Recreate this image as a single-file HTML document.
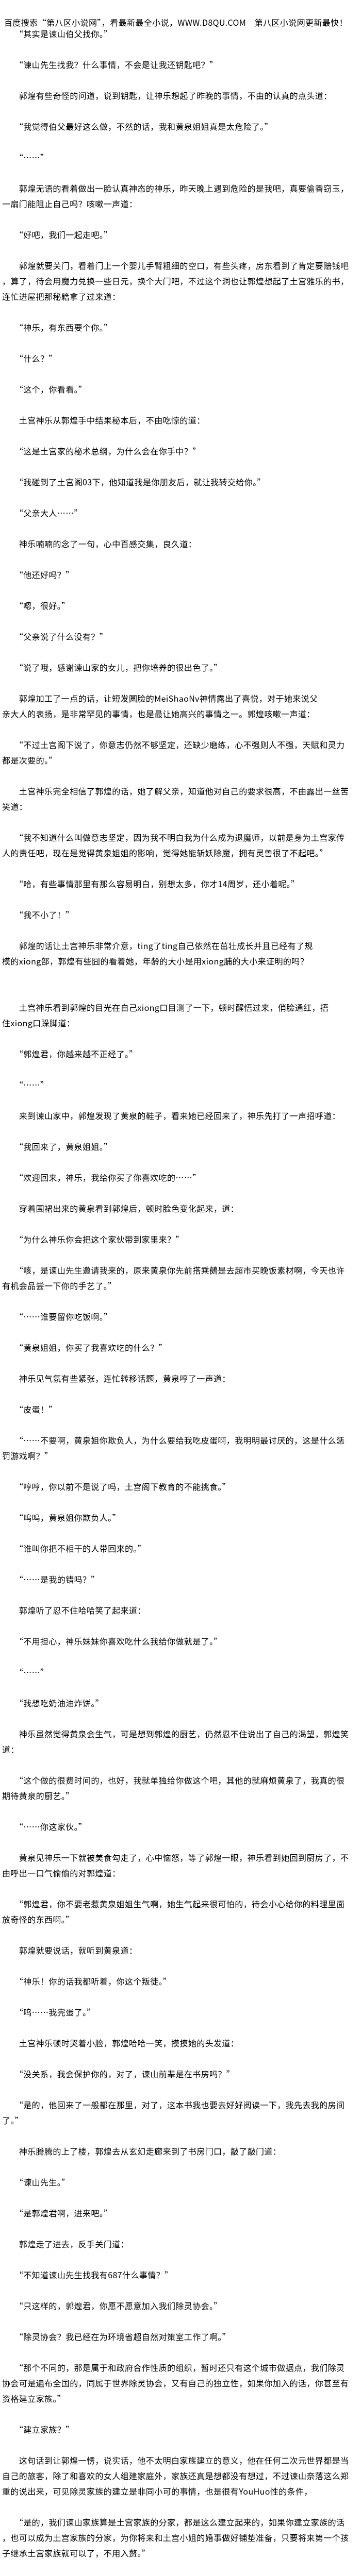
<!DOCTYPE html>
<html lang="zh">
<head>
<meta charset="utf-8">
<style>
html{margin:0;padding:0;width:700px;height:5270px;overflow:hidden;background:#fff;}
body{margin:0;padding:0;width:700px;height:5270px;overflow:hidden;background:#fff;
font-family:"Noto Sans CJK SC","Liberation Sans",sans-serif;
font-size:16px;letter-spacing:0.4px;color:#000;}
#w{position:relative;width:700px;height:5270px;overflow:hidden;}
.hdr{position:absolute;left:4px;top:28px;line-height:30px;height:30px;white-space:pre;}
.c{position:absolute;left:4px;top:50px;width:696px;}
.c div{height:30px;line-height:30px;white-space:pre;overflow:hidden;}
</style>
</head>
<body>
<div id="w">
<div class="hdr"> 百度搜索“第八区小说网”，看最新最全小说，WWW.D8QU.COM　第八区小说网更新最快！</div>
<div class="c">
<div>　　“其实是谏山伯父找你。”</div>
<div></div>
<div>　　“谏山先生找我？什么事情，不会是让我还钥匙吧？”</div>
<div></div>
<div>　　郭煌有些奇怪的问道，说到钥匙，让神乐想起了昨晚的事情，不由的认真的点头道：</div>
<div></div>
<div>　　“我觉得伯父最好这么做，不然的话，我和黄泉姐姐真是太危险了。”</div>
<div></div>
<div>　　“……”</div>
<div></div>
<div>　　郭煌无语的看着做出一脸认真神态的神乐，昨天晚上遇到危险的是我吧，真要偷香窃玉，</div>
<div>一扇门能阻止自己吗？咳嗽一声道：</div>
<div></div>
<div>　　“好吧，我们一起走吧。”</div>
<div></div>
<div>　　郭煌就要关门，看着门上一个婴儿手臂粗细的空口，有些头疼，房东看到了肯定要赔钱吧</div>
<div>，算了，待会用魔力兑换一些日元，换个大门吧，不过这个洞也让郭煌想起了土宫雅乐的书，</div>
<div>连忙进屋把那秘籍拿了过来道：</div>
<div></div>
<div>　　“神乐，有东西要个你。”</div>
<div></div>
<div>　　“什么？”</div>
<div></div>
<div>　　“这个，你看看。”</div>
<div></div>
<div>　　土宫神乐从郭煌手中结果秘本后，不由吃惊的道：</div>
<div></div>
<div>　　“这是土宫家的秘术总纲，为什么会在你手中？”</div>
<div></div>
<div>　　“我碰到了土宫阁03下，他知道我是你朋友后，就让我转交给你。”</div>
<div></div>
<div>　　“父亲大人……”</div>
<div></div>
<div>　　神乐喃喃的念了一句，心中百感交集，良久道：</div>
<div></div>
<div>　　“他还好吗？”</div>
<div></div>
<div>　　“嗯，很好。”</div>
<div></div>
<div>　　“父亲说了什么没有？”</div>
<div></div>
<div>　　“说了哦，感谢谏山家的女儿，把你培养的很出色了。”</div>
<div></div>
<div>　　郭煌加工了一点的话，让短发圆脸的MeiShaoNv神情露出了喜悦，对于她来说父</div>
<div>亲大人的表扬，是非常罕见的事情，也是最让她高兴的事情之一。郭煌咳嗽一声道：</div>
<div></div>
<div>　　“不过土宫阁下说了，你意志仍然不够坚定，还缺少磨练，心不强则人不强，天赋和灵力</div>
<div>都是次要的。”</div>
<div></div>
<div>　　土宫神乐完全相信了郭煌的话，她了解父亲，知道他对自己的要求很高，不由露出一丝苦</div>
<div>笑道：</div>
<div></div>
<div>　　“我不知道什么叫做意志坚定，因为我不明白我为什么成为退魔师，以前是身为土宫家传</div>
<div>人的责任吧，现在是觉得黄泉姐姐的影响，觉得她能斩妖除魔，拥有灵兽很了不起吧。”</div>
<div></div>
<div>　　“哈，有些事情那里有那么容易明白，别想太多，你才14周岁，还小着呢。”</div>
<div></div>
<div>　　“我不小了！”</div>
<div></div>
<div>　　郭煌的话让土宫神乐非常介意，ting了ting自己依然在茁壮成长并且已经有了规</div>
<div>模的xiong部，郭煌有些囧的看着她，年龄的大小是用xiong脯的大小来证明的吗？</div>
<div></div>
<div></div>
<div>　　土宫神乐看到郭煌的目光在自己xiong口目测了一下，顿时醒悟过来，俏脸通红，捂</div>
<div>住xiong口跺脚道：</div>
<div></div>
<div>　　“郭煌君，你越来越不正经了。”</div>
<div></div>
<div>　　“……”</div>
<div></div>
<div>　　来到谏山家中，郭煌发现了黄泉的鞋子，看来她已经回来了，神乐先打了一声招呼道：</div>
<div></div>
<div>　　“我回来了，黄泉姐姐。”</div>
<div></div>
<div>　　“欢迎回来，神乐，我给你买了你喜欢吃的……”</div>
<div></div>
<div>　　穿着围裙出来的黄泉看到郭煌后，顿时脸色变化起来，道：</div>
<div></div>
<div>　　“为什么神乐你会把这个家伙带到家里来？”</div>
<div></div>
<div>　　“咳，是谏山先生邀请我来的，原来黄泉你先前搭乘鵺是去超市买晚饭素材啊，今天也许</div>
<div>有机会品尝一下你的手艺了。”</div>
<div></div>
<div>　　“……谁要留你吃饭啊。”</div>
<div></div>
<div>　　“黄泉姐姐，你买了我喜欢吃的什么？”</div>
<div></div>
<div>　　神乐见气氛有些紧张，连忙转移话题，黄泉哼了一声道：</div>
<div></div>
<div>　　“皮蛋！”</div>
<div></div>
<div>　　“……不要啊，黄泉姐你欺负人，为什么要给我吃皮蛋啊，我明明最讨厌的，这是什么惩</div>
<div>罚游戏啊？”</div>
<div></div>
<div>　　“哼哼，你以前不是说了吗，土宫阁下教育的不能挑食。”</div>
<div></div>
<div>　　“呜呜，黄泉姐你欺负人。”</div>
<div></div>
<div>　　“谁叫你把不相干的人带回来的。”</div>
<div></div>
<div>　　“……是我的错吗？”</div>
<div></div>
<div>　　郭煌听了忍不住哈哈笑了起来道：</div>
<div></div>
<div>　　“不用担心，神乐妹妹你喜欢吃什么我给你做就是了。”</div>
<div></div>
<div>　　“……”</div>
<div></div>
<div>　　“我想吃奶油油炸饼。”</div>
<div></div>
<div>　　神乐虽然觉得黄泉会生气，可是想到郭煌的厨艺，仍然忍不住说出了自己的渴望，郭煌笑</div>
<div>道：</div>
<div></div>
<div>　　“这个做的很费时间的，也好，我就单独给你做这个吧，其他的就麻烦黄泉了，我真的很</div>
<div>期待黄泉的厨艺。”</div>
<div></div>
<div>　　“……你这家伙。”</div>
<div></div>
<div>　　黄泉见神乐一下就被美食勾走了，心中恼怒，等了郭煌一眼，神乐看到她回到厨房了，不</div>
<div>由呼出一口气偷偷的对郭煌道：</div>
<div></div>
<div>　　“郭煌君，你不要老惹黄泉姐姐生气啊，她生气起来很可怕的，待会小心给你的料理里面</div>
<div>放奇怪的东西啊。”</div>
<div></div>
<div>　　郭煌就要说话，就听到黄泉道：</div>
<div></div>
<div>　　“神乐！你的话我都听着，你这个叛徒。”</div>
<div></div>
<div>　　“呜……我完蛋了。”</div>
<div></div>
<div>　　土宫神乐顿时哭着小脸，郭煌哈哈一笑，摸摸她的头发道：</div>
<div></div>
<div>　　“没关系，我会保护你的，对了，谏山前辈是在书房吗？”</div>
<div></div>
<div>　　“是的，他回来了一般都在那里，对了，这本书我也要去好好阅读一下，我先去我的房间</div>
<div>了。”</div>
<div></div>
<div>　　神乐腾腾的上了楼，郭煌去从玄幻走廊来到了书房门口，敲了敲门道：</div>
<div></div>
<div>　　“谏山先生。”</div>
<div></div>
<div>　　“是郭煌君啊，进来吧。”</div>
<div></div>
<div>　　郭煌走了进去，反手关门道：</div>
<div></div>
<div>　　“不知道谏山先生找我有687什么事情？”</div>
<div></div>
<div>　　“只这样的，郭煌君，你愿不愿意加入我们除灵协会。”</div>
<div></div>
<div>　　“除灵协会？我已经在为环境省超自然对策室工作了啊。”</div>
<div></div>
<div>　　“那个不同的，那是属于和政府合作性质的组织，暂时还只有这个城市做据点，我们除灵</div>
<div>协会可是遍布全国的，同属于世界除灵协会，又有自己的独立性，如果你加入的话，你甚至有</div>
<div>资格建立家族。”</div>
<div></div>
<div>　　“建立家族？”</div>
<div></div>
<div>　　这句话到让郭煌一愣，说实话，他不太明白家族建立的意义，他在任何二次元世界都是当</div>
<div>自己的旅客，除了和喜欢的女人组建家庭外，家族还真是想都没有想过，不过谏山奈落这么郑</div>
<div>重的说出来，可见除灵家族的建立是非同小可的事情，也是很有YouHuo性的条件，</div>
<div></div>
<div>　　“是的，我们谏山家族算是土宫家族的分家，都是这么建立起来的，如果你建立家族的话</div>
<div>，也可以成为土宫家族的分家，为你将来和土宫小姐的婚事做好铺垫准备，只要将来第一个孩</div>
<div>子继承土宫家族就可以了，不用入赘。”</div>
<div></div>
<div>　　这次郭煌是彻底给吓到了，为毛谏山奈落会忽然说自己和神乐结婚的事情啊，这不科学。</div>
<div>（《萌爱宅神》《二次元美女图》）</div>
<div></div>
<div>飞卢提醒您：读书三件事 - 收藏、推荐、分享！</div>
<div></div>
<div>支持飞卢小说网(http://b.faloo.com)原创作品，尽享阅读的喜悦！</div>
<div></div>
<div> 百度搜索“第八区小说网”，看最新最全小说，WWW.D8QU.COM　第八区小说网更新最快！</div>
</div>
</div>
</body>
</html>
